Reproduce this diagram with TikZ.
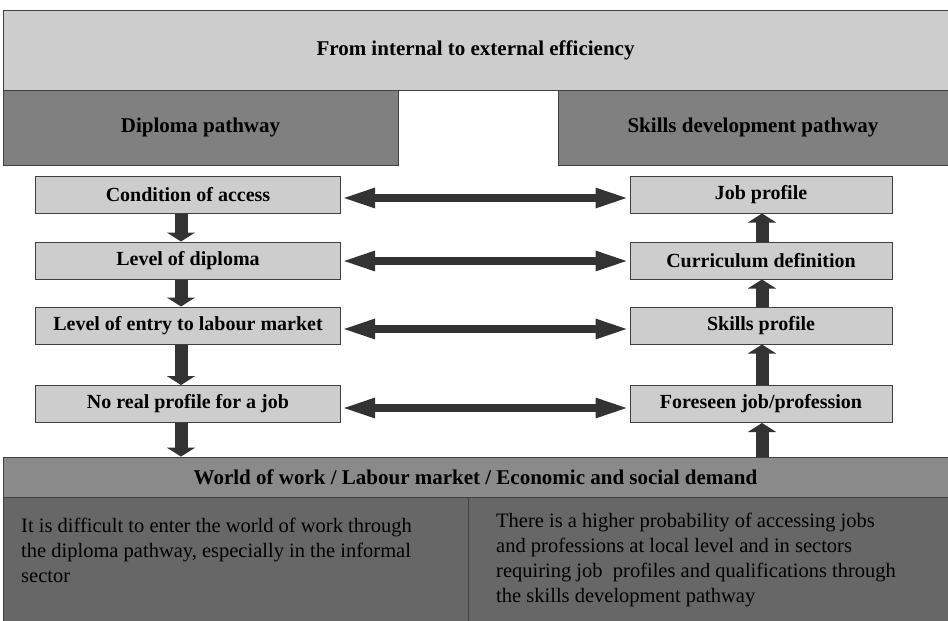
\documentclass[tikz,border=0pt]{standalone}
\usepackage{fontspec}
\setmainfont{Liberation Serif}
\usetikzlibrary{arrows.meta}
\definecolor{lightbox}{HTML}{CDCDCD}
\definecolor{midbox}{HTML}{808080}
\definecolor{bandbox}{HTML}{8A8A8A}
\definecolor{darkbox}{HTML}{676767}
\definecolor{arrowgray}{HTML}{333333}
\begin{document}
\begin{tikzpicture}[x=1pt,y=-1pt,line join=miter,
		head/.style={draw=black!75,line width=0.8pt,inner sep=0pt,font=\fontsize{21}{25}\selectfont\bfseries},
		stepbox/.style={draw=black!75,fill=lightbox,line width=1pt,inner sep=0pt,minimum height=37pt,font=\fontsize{20}{23}\selectfont\bfseries},
		note/.style={draw=black!75,fill=darkbox,line width=0.8pt,inner sep=0pt,minimum height=124pt},
		notetext/.style={anchor=north west,align=left,inner sep=0pt,font=\fontsize{20.5}{25}\selectfont},
		fatdown/.style={-{Triangle[width=28pt,length=9pt]},line width=13pt,draw=arrowgray},
		fatboth/.style={{Triangle[width=18pt,length=34pt]}-{Triangle[width=18pt,length=34pt]},line width=8pt,draw=arrowgray}]
			\useasboundingbox (0,0) rectangle (948,621);
			% headers
			\node[head,fill=lightbox,minimum width=945pt,minimum height=80pt] (top) at (475.5,50) {From internal to external efficiency};
			\node[head,fill=midbox,minimum width=395pt,minimum height=75pt] (dip) at (200.5,127.5) {Diploma pathway};
			\node[head,fill=midbox,minimum width=390pt,minimum height=75pt] (skl) at (753,127.5) {Skills development pathway};
			% diploma steps
			\node[stepbox,minimum width=305pt] (access) at (188,194.5) {Condition of access};
			\node[stepbox,minimum width=305pt] (level) at (188,260.5) {Level of diploma};
			\node[stepbox,minimum width=305pt] (entry) at (188,325.5) {Level of entry to labour market};
			\node[stepbox,minimum width=305pt] (noprof) at (188,404) {No real profile for a job};
			% skills steps
			\node[stepbox,minimum width=262pt] (jobprof) at (761,194.5) {Job profile};
			\node[stepbox,minimum width=262pt] (curric) at (761,260.5) {Curriculum definition};
			\node[stepbox,minimum width=262pt] (sklprof) at (761,325.5) {Skills profile};
			\node[stepbox,minimum width=262pt] (foreseen) at (761,404) {Foreseen job/profession};
			% world of work
			\node[head,fill=bandbox,minimum width=945pt,minimum height=40pt] (world) at (475.5,477) {World of work / Labour market / Economic and social demand};
			\node[note,minimum width=465pt] (leftnote) at (235.5,559) {};
			\node[note,minimum width=480pt] (rightnote) at (708,559) {};
			\node[notetext] (lefttext) at (21,518) {It is difficult to enter the world of work through\\the diploma pathway, especially in the informal\\sector};
			\node[notetext] (righttext) at (496,513) {There is a higher probability of accessing jobs\\and professions at local level and in sectors\\requiring job~ profiles and qualifications through\\the skills development pathway};
			% arrows
			\draw[fatdown] (access.south -| 181,0) -- (level.north -| 181,0);
			\draw[fatdown] (level.south -| 181,0) -- (entry.north -| 181,0);
			\draw[fatdown] (entry.south -| 181,0) -- (noprof.north -| 181,0);
			\draw[fatdown] (noprof.south -| 181,0) -- (world.north -| 181,0);
			\draw[fatdown] (world.north -| 762,0) -- (foreseen.south -| 762,0);
			\draw[fatdown] (foreseen.north -| 762,0) -- (sklprof.south -| 762,0);
			\draw[fatdown] (sklprof.north -| 762,0) -- (curric.south -| 762,0);
			\draw[fatdown] (curric.north -| 762,0) -- (jobprof.south -| 762,0);
			\draw[fatboth] ([yshift=-3.5pt]access.east) -- ([yshift=-3.5pt]access.east -| jobprof.west);
			\draw[fatboth] ([yshift=-0.5pt]level.east) -- ([yshift=-0.5pt]level.east -| curric.west);
			\draw[fatboth] ([yshift=-3.5pt]entry.east) -- ([yshift=-3.5pt]entry.east -| sklprof.west);
			\draw[fatboth] ([yshift=-4pt]noprof.east) -- ([yshift=-4pt]noprof.east -| foreseen.west);
		\end{tikzpicture}
\end{document}
